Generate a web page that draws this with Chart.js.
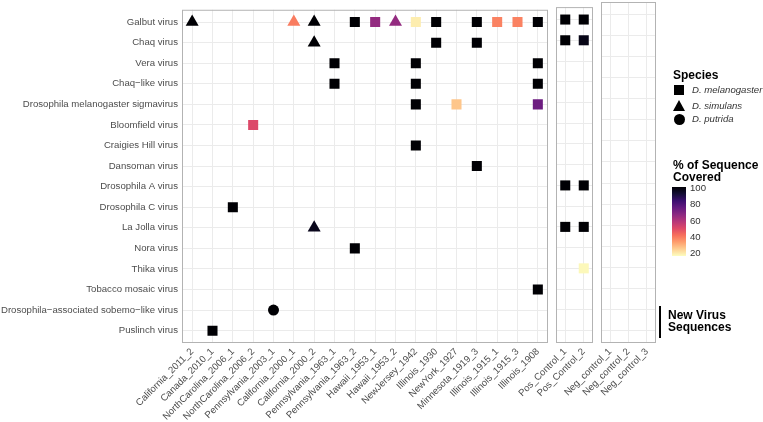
<!DOCTYPE html>
<html lang="en">
<head>
<meta charset="UTF-8">
<title>Virus detections by sample</title>
<script src="https://cdn.jsdelivr.net/npm/chart.js"></script>
<style>
    * { margin: 0; padding: 0; box-sizing: border-box; }
    html, body { width: 763px; height: 422px; overflow: hidden; background: #fff; }
    body { position: relative; font-family: 'Liberation Sans', Arial, sans-serif; }
    canvas { position: absolute; left: 0; top: 0; }
    .leg { position: absolute; color: #333; font-size: 9.6px; line-height: 12px; white-space: nowrap; }
    .title { position: absolute; color: #000; font-size: 12px; font-weight: bold; line-height: 12px; white-space: nowrap; }
    .sq { position: absolute; width: 10px; height: 10px; background: #000; }
    .tri { position: absolute; width: 0; height: 0; border-left: 6.5px solid transparent; border-right: 6.5px solid transparent; border-bottom: 11px solid #000; }
    .dot { position: absolute; width: 11px; height: 11px; border-radius: 50%; background: #000; }
    #bar { position: absolute; left: 672px; top: 187px; width: 14px; height: 69px; }
    #newline { position: absolute; left: 659px; top: 306px; width: 2px; height: 32px; background: #000; }
</style>
</head>
<body>
<canvas id="pMain" width="763" height="422"></canvas>
<canvas id="pPos" width="763" height="422"></canvas>
<canvas id="pNeg" width="763" height="422"></canvas>

<div class="title" style="left:673px; top:69px;">Species</div>
<div class="sq" style="left:674px; top:85px;"></div>
<div class="leg" style="left:692px; top:84px;"><i>D. melanogaster</i></div>
<div class="tri" style="left:672.5px; top:100px;"></div>
<div class="leg" style="left:692px; top:100px;"><i>D. simulans</i></div>
<div class="dot" style="left:673.5px; top:113.5px;"></div>
<div class="leg" style="left:692px; top:113px;"><i>D. putrida</i></div>

<div class="title" style="left:673px; top:159px;">% of Sequence<br>Covered</div>
<div id="bar"></div>
<div class="leg" style="left:690px; top:182px;">100</div>
<div class="leg" style="left:690px; top:198px;">80</div>
<div class="leg" style="left:690px; top:214.5px;">60</div>
<div class="leg" style="left:690px; top:230.5px;">40</div>
<div class="leg" style="left:690px; top:246.5px;">20</div>

<div id="newline"></div>
<div class="title" style="left:668px; top:309px;">New Virus<br>Sequences</div>

<script>
    // viruses, top to bottom
    const viruses = ['Galbut virus', 'Chaq virus', 'Vera virus', 'Chaq\u2212like virus',
        'Drosophila melanogaster sigmavirus', 'Bloomfield virus', 'Craigies Hill virus',
        'Dansoman virus', 'Drosophila A virus', 'Drosophila C virus', 'La Jolla virus',
        'Nora virus', 'Thika virus', 'Tobacco mosaic virus',
        'Drosophila\u2212associated sobemo\u2212like virus', 'Puslinch virus'];

    // samples in each panel
    const samplesMain = ['California_2011_2', 'Canada_2010_1', 'NorthCarolina_2006_1', 'NorthCarolina_2006_2',
        'Pennsylvania_2003_1', 'California_2000_1', 'California_2000_2', 'Pennsylvania_1963_1',
        'Pennsylvania_1963_2', 'Hawaii_1953_1', 'Hawaii_1953_2', 'NewJersey_1942', 'Illinois_1930',
        'NewYork_1927', 'Minnesota_1919_3', 'Illinois_1915_1', 'Illinois_1915_3', 'Illinois_1908'];
    const samplesPos = ['Pos_Control_1', 'Pos_Control_2'];
    const samplesNeg = ['Neg_control_1', 'Neg_control_2', 'Neg_control_3'];

    // one entry per detection: virus (index into viruses), sample, host species, % covered
    const obsVirus = [0, 0, 0, 0, 0, 0, 0, 0, 0, 0, 0, 0, 0, 0,
        1, 1, 1, 1, 1,
        2, 2, 2,
        3, 3, 3,
        4, 4, 4,
        5, 6, 7, 8, 8, 9,
        10, 10, 10,
        11, 12, 13, 14, 15];
    const obsSample = ['California_2011_2', 'California_2000_1', 'California_2000_2', 'Pennsylvania_1963_2',
        'Hawaii_1953_1', 'Hawaii_1953_2', 'NewJersey_1942', 'Illinois_1930', 'Minnesota_1919_3',
        'Illinois_1915_1', 'Illinois_1915_3', 'Illinois_1908', 'Pos_Control_1', 'Pos_Control_2',
        'California_2000_2', 'Illinois_1930', 'Minnesota_1919_3', 'Pos_Control_1', 'Pos_Control_2',
        'Pennsylvania_1963_1', 'NewJersey_1942', 'Illinois_1908',
        'Pennsylvania_1963_1', 'NewJersey_1942', 'Illinois_1908',
        'NewJersey_1942', 'NewYork_1927', 'Illinois_1908',
        'NorthCarolina_2006_2', 'NewJersey_1942', 'Minnesota_1919_3', 'Pos_Control_1', 'Pos_Control_2',
        'NorthCarolina_2006_1',
        'California_2000_2', 'Pos_Control_1', 'Pos_Control_2',
        'Pennsylvania_1963_2', 'Pos_Control_2', 'Illinois_1908', 'Pennsylvania_2003_1', 'Canada_2010_1'];
    const obsSpecies = ['sim', 'sim', 'sim', 'mel', 'mel', 'sim', 'mel', 'mel', 'mel', 'mel', 'mel', 'mel', 'mel', 'mel',
        'sim', 'mel', 'mel', 'mel', 'mel',
        'mel', 'mel', 'mel',
        'mel', 'mel', 'mel',
        'mel', 'mel', 'mel',
        'mel', 'mel', 'mel', 'mel', 'mel', 'mel',
        'sim', 'mel', 'mel',
        'mel', 'mel', 'mel', 'put', 'mel'];
    const obsCoverage = [100, 39, 100, 100, 65, 65, 19, 100, 100, 38, 38, 100, 100, 100,
        100, 100, 100, 100, 97,
        100, 100, 100,
        100, 100, 100,
        100, 26, 73,
        50, 100, 100, 100, 100, 100,
        96, 100, 100,
        100, 17, 100, 100, 100];

    // magma palette, dark = high coverage
    const magmaStops = ['#000004', '#140E36', '#3B0F70', '#641A80', '#8C2981', '#B73779',
        '#DE4968', '#F7705C', '#FE9F6D', '#FECF92', '#FCFDBF'];
    const coverMin = 16, coverMax = 100;

    function hexRgb(h) {
        return [parseInt(h.substr(1, 2), 16), parseInt(h.substr(3, 2), 16), parseInt(h.substr(5, 2), 16)];
    }
    function magma(v) {
        var t = (coverMax - v) / (coverMax - coverMin);
        t = Math.max(0, Math.min(1, t)) * (magmaStops.length - 1);
        var i = Math.min(Math.floor(t), magmaStops.length - 2), f = t - i;
        var a = hexRgb(magmaStops[i]), b = hexRgb(magmaStops[i + 1]);
        return 'rgb(' + a.map((c, k) => Math.round(c + (b[k] - c) * f)).join(',') + ')';
    }

    document.getElementById('bar').style.background =
        'linear-gradient(to bottom, ' + magmaStops.join(', ') + ')';

    Chart.defaults.font.family = "'Liberation Sans', Arial, sans-serif";
    Chart.defaults.font.size = 9.6;
    Chart.defaults.color = '#4D4D4D';

    const shapes = {
        mel: { style: 'rect', radius: 7.1 },
        sim: { style: 'triangle', radius: 7.5 },
        put: { style: 'circle', radius: 5.5 }
    };

    // grey box around each facet
    const panelBox = {
        id: 'panelBox',
        afterDatasetsDraw(chart) {
            var a = chart.chartArea, c = chart.ctx;
            c.save();
            c.strokeStyle = '#B3B3B3';
            c.lineWidth = 1;
            c.strokeRect(a.left + 0.5, a.top + 0.5, a.right - a.left - 1, a.bottom - a.top - 1);
            c.restore();
        }
    };

    function panelDatasets(samples) {
        return Object.keys(shapes).map(function (sp) {
            var pts = [], cols = [];
            obsSample.forEach(function (s, i) {
                var xi = samples.indexOf(s);
                if (xi < 0 || obsSpecies[i] !== sp) return;
                pts.push({ x: xi, y: obsVirus[i] });
                cols.push(magma(obsCoverage[i]));
            });
            return {
                label: sp,
                data: pts,
                pointStyle: shapes[sp].style,
                pointRadius: shapes[sp].radius,
                pointHoverRadius: shapes[sp].radius,
                pointBorderWidth: 0,
                pointBackgroundColor: ctx => cols[ctx.dataIndex],
                showLine: false
            };
        });
    }

    function makePanel(id, samples, left, right, showY) {
        return new Chart(document.getElementById(id), {
            type: 'scatter',
            data: { datasets: panelDatasets(samples) },
            plugins: [panelBox],
            options: {
                responsive: false,
                animation: false,
                events: [],
                layout: { padding: { left: showY ? 0 : left, right: 763 - right, top: 2, bottom: 0 } },
                plugins: { legend: { display: false }, tooltip: { enabled: false } },
                scales: {
                    x: {
                        type: 'linear',
                        min: -0.5,
                        max: samples.length - 0.5,
                        afterBuildTicks: s => { s.ticks = samples.map((_, i) => ({ value: i })); },
                        afterFit: s => { s.height = 79; },
                        ticks: {
                            autoSkip: false,
                            minRotation: 45,
                            maxRotation: 45,
                            padding: 3,
                            callback: v => samples[v]
                        },
                        grid: { color: '#EBEBEB', drawTicks: false },
                        border: { display: false }
                    },
                    y: {
                        type: 'linear',
                        reverse: true,
                        min: -0.6,
                        max: viruses.length - 0.4,
                        afterBuildTicks: s => { s.ticks = viruses.map((_, i) => ({ value: i })); },
                        afterFit: s => { s.width = showY ? left : 0; },
                        ticks: {
                            display: showY,
                            autoSkip: false,
                            padding: 4,
                            callback: v => viruses[v]
                        },
                        grid: { color: '#EBEBEB', drawTicks: false },
                        border: { display: false }
                    }
                }
            }
        });
    }

    makePanel('pMain', samplesMain, 182, 548, true);
    makePanel('pPos', samplesPos, 556, 593, false);
    makePanel('pNeg', samplesNeg, 601, 656, false);
</script>
</body>
</html>
